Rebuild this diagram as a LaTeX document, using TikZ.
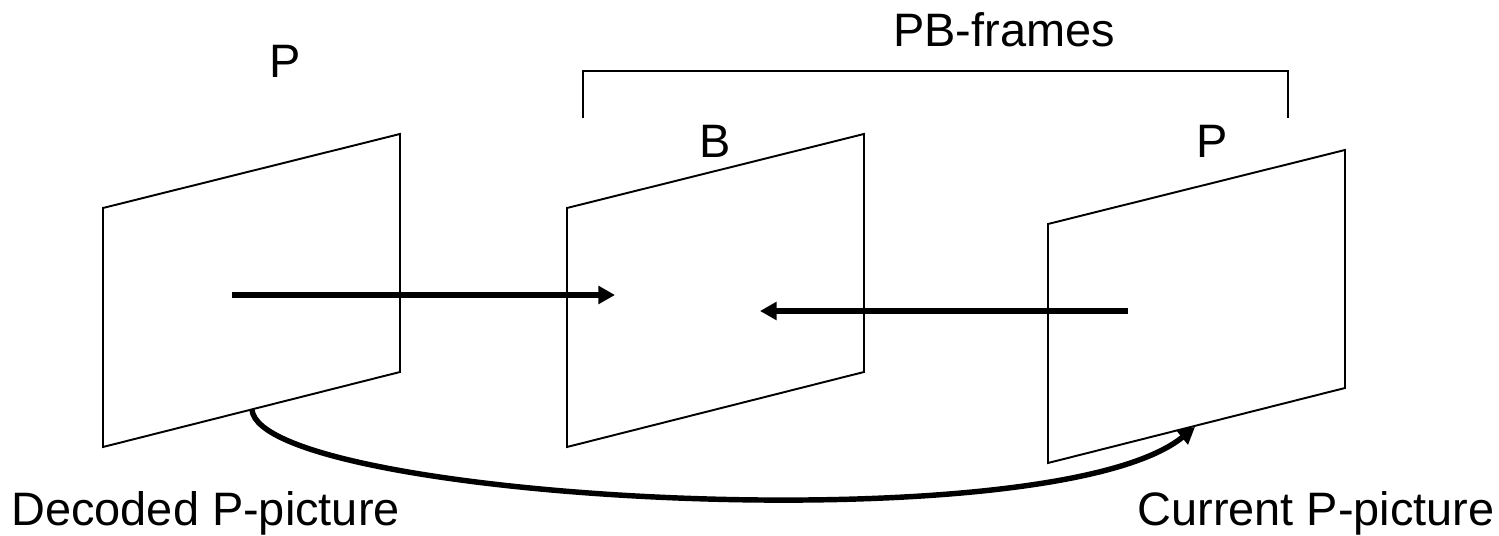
\documentclass[tikz,border=0pt]{standalone}
\usepackage{fontspec}
\setmainfont{Liberation Sans}
\usepackage{tikz}
\usetikzlibrary{arrows.meta, positioning}

\begin{document}
\begin{tikzpicture}[x=0.02cm, y=-0.02cm,
    >={Triangle[length=9.5pt, width=10pt]},
    frame/.style={line width=1.1pt, line join=miter},
    mv/.style={line width=3.3pt, ->},
    lbl/.style={inner sep=0pt, font=\fontsize{26.7}{32}\selectfont}]
  \useasboundingbox (0,0) rectangle (1499,536);
  % three picture planes, tilted
  \foreach \fx/\fy in {103/0, 567/0, 1048/16}
    \draw[frame] (\fx,208+\fy) -- (\fx+297,134+\fy) -- (\fx+297,372+\fy) -- (\fx,447+\fy) -- cycle;
  \node[lbl, anchor=base] (p1) at (285,78) {P};
  \node[lbl, anchor=base] (b) at (715,158) {B};
  \node[lbl, anchor=base] (p2) at (1212,158) {P};
  % bracket over the PB pair
  \draw[frame] (583,118) -- (583,71) -- (1288,71) -- (1288,118);
  \node[lbl, anchor=base] (pb) at (1004,47) {PB-frames};
  % motion vectors
  \coordinate (fwdS) at (232,295);
  \coordinate (fwdE) at (615,295);
  \coordinate (bwdS) at (1128,311);
  \coordinate (bwdE) at (760,311);
  \draw[mv] (fwdS) -- (fwdE);
  \draw[mv] (bwdS) -- (bwdE);
  % P to P prediction
  \coordinate (curS) at (252,410);
  \coordinate (curE) at (1195,427);
  \draw[line width=3.1pt, ->] (curS) .. controls (262,500) and (1050,545) .. (curE);
  \node[lbl, anchor=base west] (dec) at (11,526) {Decoded P-picture};
  \node[lbl, anchor=base east] (cur) at (1495,526) {Current P-picture};
\end{tikzpicture}
\end{document}
